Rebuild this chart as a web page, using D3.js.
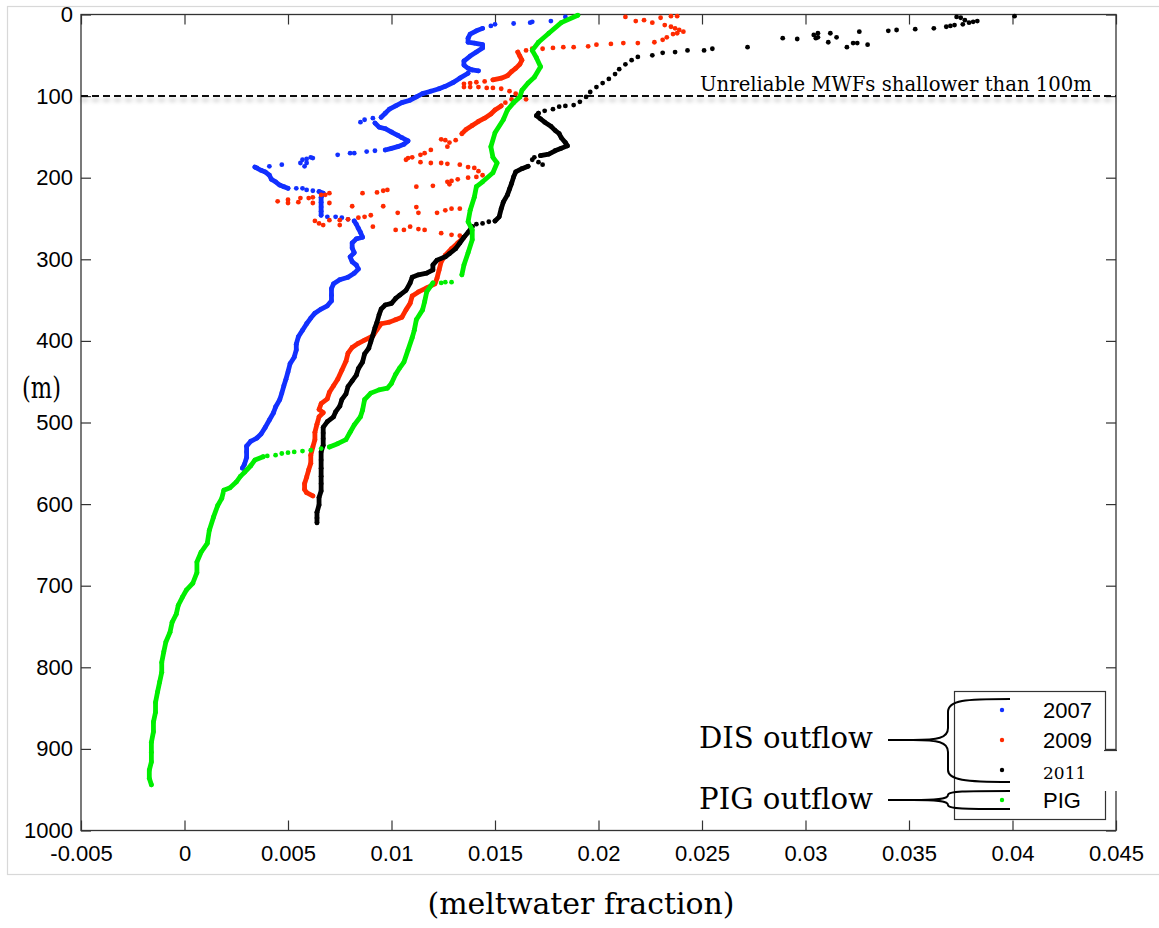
<!DOCTYPE html>
<html>
<head>
<meta charset="utf-8">
<script src="https://cdn.jsdelivr.net/npm/d3@7"></script>
<style>
  body { margin: 0; background: #fff; }
  svg { display: block; }
</style>
</head>
<body>
<svg id="chart" width="1159" height="928"></svg>
<script>
// tick values and labels
const xTicks = [-0.005, 0, 0.005, 0.01, 0.015, 0.02, 0.025, 0.03, 0.035, 0.04, 0.045];
const xTickLabels = ['-0.005', '0', '0.005', '0.01', '0.015', '0.02', '0.025', '0.03', '0.035', '0.04', '0.045'];
const yTicks = [0, 100, 200, 300, 400, 500, 600, 700, 800, 900, 1000];

// [meltwater fraction, depth m]; traces are the dense runs, dots the loose points
const dots2007 = [
  [0.0184, 3], [0.0177, 8], [0.0168, 9], [0.0167, 10], [0.0159, 11], [0.0150, 12], [0.0148, 14],
  [0.0091, 127], [0.0087, 129], [0.0085, 132],
  [0.0092, 167], [0.0088, 168], [0.0082, 170], [0.0080, 170], [0.0074, 172],
  [0.0061, 175], [0.0059, 177], [0.0057, 178], [0.0059, 182], [0.0056, 182], [0.0058, 186], [0.0062, 176],
  [0.0047, 184], [0.0041, 186], [0.0035, 188],
  [0.0054, 213], [0.0057, 213], [0.0059, 215], [0.0062, 216],
  [0.0069, 248], [0.0073, 248], [0.0076, 249], [0.0079, 251],
];
const traces2007 = [
  [[0.0144, 17], [0.0141, 20], [0.0138, 24], [0.0137, 29], [0.0137, 34], [0.0140, 35], [0.0144, 37], [0.0144, 41],
   [0.0141, 46], [0.0138, 51], [0.0135, 57], [0.0135, 62], [0.0137, 66], [0.0139, 68], [0.0142, 69]],
  [[0.0137, 72], [0.0133, 78], [0.0130, 83], [0.0126, 88], [0.0123, 91], [0.0119, 94], [0.0115, 97], [0.0112, 101],
   [0.0109, 105], [0.0105, 108], [0.0102, 112], [0.0099, 116], [0.0097, 121], [0.0095, 126]],
  [[0.0092, 133], [0.0094, 138], [0.0097, 140], [0.0100, 144], [0.0103, 148], [0.0105, 151], [0.0108, 155],
   [0.0106, 159], [0.0103, 162], [0.0100, 164], [0.0097, 166]],
  [[0.0034, 187], [0.0037, 191], [0.0039, 193], [0.0041, 197], [0.0042, 202], [0.0044, 205], [0.0046, 209],
   [0.0048, 211], [0.0050, 213]],
  [[0.0065, 217], [0.0067, 219], [0.0066, 224], [0.0066, 230], [0.0066, 236], [0.0066, 241], [0.0066, 246]],
  [[0.0082, 253], [0.0083, 257], [0.0084, 262], [0.0085, 267], [0.0086, 273], [0.0083, 275], [0.0081, 280],
   [0.0081, 286], [0.0082, 292], [0.0080, 297], [0.0081, 303], [0.0083, 307], [0.0084, 312], [0.0082, 317],
   [0.0079, 322], [0.0075, 325], [0.0072, 330], [0.0071, 336], [0.0071, 344], [0.0071, 351], [0.0069, 357],
   [0.0066, 361], [0.0063, 366], [0.0061, 372], [0.0059, 379], [0.0057, 387], [0.0055, 395], [0.0054, 404],
   [0.0054, 411], [0.0053, 420], [0.0051, 428], [0.0050, 438], [0.0049, 447], [0.0048, 455], [0.0047, 464],
   [0.0046, 472], [0.0044, 481], [0.0043, 488], [0.0041, 497], [0.0039, 506], [0.0037, 514], [0.0035, 519],
   [0.0032, 523], [0.0030, 529], [0.0030, 536], [0.0030, 543], [0.0029, 551], [0.0028, 556]],
];

const dots2009 = [
  [0.0213, 3], [0.0218, 8], [0.0222, 7], [0.0226, 10], [0.0230, 4], [0.0235, 2], [0.0238, 2], [0.0232, 13],
  [0.0235, 15], [0.0237, 17], [0.0239, 19], [0.0241, 21], [0.0238, 23], [0.0236, 24], [0.0233, 28], [0.0231, 31],
  [0.0227, 34],
  [0.0219, 35], [0.0212, 35], [0.0206, 36], [0.0199, 37], [0.0195, 39], [0.0188, 40], [0.0183, 40], [0.0178, 41],
  [0.0173, 42], [0.0168, 42], [0.0165, 44],
  [0.0145, 82], [0.0141, 83], [0.0138, 84], [0.0135, 85], [0.0135, 89], [0.0138, 89], [0.0142, 89], [0.0146, 90],
  [0.0149, 90], [0.0153, 91], [0.0157, 94], [0.0160, 97], [0.0162, 101], [0.0165, 104], [0.0161, 103],
  [0.0158, 104], [0.0155, 108],
  [0.0131, 154], [0.0128, 157], [0.0126, 154], [0.0127, 162], [0.0124, 153], [0.0119, 166], [0.0116, 170],
  [0.0114, 172], [0.0110, 175], [0.0108, 176], [0.0107, 178],
  [0.0114, 181], [0.0119, 182], [0.0124, 182], [0.0127, 183], [0.0133, 184], [0.0137, 187], [0.0140, 188],
  [0.0142, 192], [0.0144, 197], [0.0141, 199], [0.0137, 200], [0.0132, 202], [0.0129, 204], [0.0127, 205],
  [0.0128, 208], [0.0120, 210], [0.0112, 211], [0.0098, 215], [0.0096, 216], [0.0093, 218], [0.0086, 219],
  [0.0070, 219], [0.0068, 221], [0.0066, 221], [0.0062, 224], [0.0060, 225], [0.0056, 225], [0.0055, 230],
  [0.0050, 227], [0.0050, 231], [0.0045, 229], [0.0062, 231], [0.0070, 231], [0.0081, 235], [0.0096, 235],
  [0.0103, 243], [0.0112, 236], [0.0113, 243], [0.0122, 243], [0.0126, 240], [0.0129, 238], [0.0133, 238],
  [0.0090, 246], [0.0087, 248], [0.0084, 249], [0.0079, 251], [0.0075, 252], [0.0070, 252], [0.0063, 253],
  [0.0065, 256], [0.0067, 258], [0.0075, 258], [0.0091, 260], [0.0102, 264], [0.0106, 264], [0.0109, 260],
  [0.0113, 263], [0.0116, 264], [0.0124, 268], [0.0129, 270], [0.0133, 271],
];
const traces2009 = [
  [[0.0161, 46], [0.0162, 51], [0.0163, 56], [0.0162, 61], [0.0160, 66], [0.0158, 70], [0.0156, 75],
   [0.0153, 78], [0.0149, 80]],
  [[0.0153, 112], [0.0150, 117], [0.0148, 122], [0.0145, 127], [0.0142, 131], [0.0139, 136], [0.0136, 141],
   [0.0134, 146]],
  [[0.0135, 273], [0.0132, 280], [0.0129, 287], [0.0126, 295], [0.0124, 303], [0.0123, 313], [0.0122, 323],
   [0.0121, 330], [0.0117, 335], [0.0113, 340], [0.0110, 345], [0.0109, 354], [0.0107, 362], [0.0105, 371],
   [0.0102, 374], [0.0099, 377], [0.0095, 379], [0.0093, 386], [0.0091, 394], [0.0087, 399], [0.0084, 403],
   [0.0081, 408], [0.0079, 415], [0.0078, 425], [0.0076, 436], [0.0074, 447], [0.0072, 455], [0.0070, 463],
   [0.0069, 471], [0.0066, 477], [0.0065, 484], [0.0067, 488], [0.0065, 493], [0.0064, 502], [0.0063, 512],
   [0.0063, 521], [0.0062, 530], [0.0061, 540], [0.0061, 550], [0.0060, 558], [0.0059, 567], [0.0058, 575],
   [0.0058, 582], [0.0059, 586], [0.0062, 590]],
];

const dots2011 = [
  [0.0401, 2], [0.0383, 8], [0.0381, 9], [0.0379, 10], [0.0377, 7], [0.0376, 12], [0.0375, 4], [0.0373, 3],
  [0.0372, 13], [0.0370, 14], [0.0368, 15], [0.0362, 17], [0.0353, 18], [0.0344, 19], [0.0340, 20], [0.0330, 37],
  [0.0326, 21], [0.0325, 35], [0.0323, 35], [0.0320, 40], [0.0315, 28], [0.0312, 23], [0.0311, 34], [0.0306, 28],
  [0.0306, 23], [0.0305, 29], [0.0304, 25], [0.0296, 30], [0.0289, 29], [0.0272, 40], [0.0255, 42], [0.0251, 44],
  [0.0243, 44], [0.0237, 46], [0.0231, 47], [0.0226, 50],
  [0.0219, 52], [0.0216, 56], [0.0213, 61], [0.0210, 67], [0.0208, 73], [0.0205, 79], [0.0202, 84], [0.0199, 89],
  [0.0196, 95], [0.0194, 101], [0.0191, 107], [0.0188, 111],
  [0.0184, 112], [0.0181, 113], [0.0178, 116], [0.0174, 118],
  [0.0169, 175], [0.0168, 178], [0.0171, 181], [0.0173, 184],
  [0.0147, 254], [0.0144, 256], [0.0141, 257],
];
const traces2011 = [
  [[0.0171, 121], [0.0170, 124], [0.0172, 128], [0.0174, 132], [0.0177, 137], [0.0179, 142], [0.0181, 146],
   [0.0182, 151], [0.0184, 157], [0.0185, 161], [0.0182, 164], [0.0179, 167], [0.0176, 171], [0.0172, 173]],
  [[0.0166, 186], [0.0163, 189], [0.0160, 193], [0.0159, 199], [0.0158, 207], [0.0157, 214], [0.0156, 221],
   [0.0154, 230], [0.0153, 238], [0.0152, 248], [0.0150, 253]],
  [[0.0139, 260], [0.0137, 267], [0.0135, 273], [0.0133, 280], [0.0131, 287], [0.0128, 293], [0.0126, 297],
   [0.0122, 301], [0.0120, 307], [0.0120, 313], [0.0117, 317], [0.0113, 319], [0.0110, 322], [0.0109, 329],
   [0.0107, 338], [0.0104, 344], [0.0102, 348], [0.0100, 354], [0.0097, 356], [0.0095, 361], [0.0094, 368],
   [0.0093, 377], [0.0092, 384], [0.0091, 393], [0.0090, 401], [0.0089, 409], [0.0087, 416], [0.0086, 426],
   [0.0084, 434], [0.0083, 442], [0.0081, 449], [0.0079, 456], [0.0078, 465], [0.0076, 472], [0.0075, 480],
   [0.0073, 487], [0.0072, 493], [0.0069, 499], [0.0067, 506], [0.0067, 513], [0.0067, 520], [0.0067, 528],
   [0.0066, 536], [0.0066, 546], [0.0066, 556], [0.0066, 566], [0.0066, 575], [0.0066, 584], [0.0065, 592],
   [0.0065, 601], [0.0064, 610], [0.0064, 617], [0.0064, 623]],
];

const dotsPIG = [
  [0.0129, 328], [0.0126, 328], [0.0124, 329],
  [0.0066, 532], [0.0061, 534], [0.0057, 535], [0.0053, 536], [0.0050, 537], [0.0047, 538], [0.0044, 540],
  [0.0040, 541],
];
const tracesPIG = [
  [[0.0190, 1], [0.0182, 10], [0.0176, 23], [0.0171, 34], [0.0168, 44], [0.0170, 53], [0.0172, 64], [0.0169, 77],
   [0.0166, 84], [0.0163, 93], [0.0162, 101], [0.0159, 108], [0.0156, 117], [0.0154, 129], [0.0150, 145],
   [0.0148, 162], [0.0149, 175], [0.0151, 182], [0.0149, 194], [0.0144, 205], [0.0141, 211], [0.0140, 224],
   [0.0138, 240], [0.0137, 254], [0.0139, 264], [0.0139, 276], [0.0137, 292], [0.0135, 307], [0.0134, 319]],
  [[0.0120, 329], [0.0117, 340], [0.0116, 352], [0.0115, 362], [0.0112, 374], [0.0111, 387], [0.0110, 396],
   [0.0108, 411], [0.0106, 426], [0.0104, 433], [0.0102, 441], [0.0100, 452], [0.0098, 458], [0.0094, 460],
   [0.0090, 464], [0.0087, 472], [0.0086, 485], [0.0085, 493], [0.0082, 503], [0.0080, 512], [0.0078, 521],
   [0.0074, 526], [0.0070, 530]],
  [[0.0038, 542], [0.0034, 546], [0.0032, 553], [0.0029, 561], [0.0027, 566], [0.0025, 573], [0.0022, 580],
   [0.0019, 583], [0.0018, 593], [0.0016, 602], [0.0014, 616], [0.0012, 632], [0.0011, 648], [0.0008, 659],
   [0.0006, 671], [0.0006, 684], [0.0004, 697], [0.0001, 705], [-0.0001, 714], [-0.0003, 724], [-0.0004, 735],
   [-0.0006, 745], [-0.0007, 757], [-0.0009, 769], [-0.0010, 781], [-0.0011, 794], [-0.0011, 806],
   [-0.0012, 818], [-0.0013, 830], [-0.0014, 843], [-0.0014, 855], [-0.0015, 867], [-0.0015, 879],
   [-0.0016, 892], [-0.0016, 904], [-0.0016, 916], [-0.0017, 926], [-0.0017, 936], [-0.0016, 944]],
];

const legendLabels = ['2007', '2009', '2011', 'PIG'];
const seriesColors = ['#1230ff', '#ff2a00', '#000000', '#00ee00'];

const series = [
  { label: '2007', traces: traces2007, dots: dots2007 },
  { label: '2009', traces: traces2009, dots: dots2009 },
  { label: '2011', traces: traces2011, dots: dots2011 },
  { label: 'PIG', traces: tracesPIG, dots: dotsPIG },
];

// plot box in page pixels
const plot = { left: 81, right: 1116, top: 14.5, bottom: 830.5 };

const x = d3.scaleLinear().domain([-0.005, 0.045]).range([plot.left, plot.right]);
const y = d3.scaleLinear().domain([0, 1000]).range([plot.top, plot.bottom]);

const svg = d3.select('#chart');
const sansFont = '"Liberation Sans", Arial, Helvetica, sans-serif';
const serifFont = '"DejaVu Serif", serif';

// light frame around the whole figure
svg.append('rect')
  .attr('x', 7.5).attr('y', 6.5)
  .attr('width', 1160).attr('height', 868)
  .attr('fill', 'none')
  .attr('stroke', '#d8d8d8')
  .attr('stroke-width', 1.2);

// shadow for the dashed line (user space, a flat line has no bbox height)
const defs = svg.append('defs');
const shadow = defs.append('filter').attr('id', 'shadow')
  .attr('filterUnits', 'userSpaceOnUse')
  .attr('x', 0).attr('y', y(100) - 20)
  .attr('width', 1159).attr('height', 40);
shadow.append('feDropShadow')
  .attr('dx', 0).attr('dy', 4)
  .attr('stdDeviation', 2)
  .attr('flood-color', '#000')
  .attr('flood-opacity', 0.3);

// axes, ticks pointing inward on all four sides
function styleAxis(g) {
  g.select('.domain').remove();
  g.selectAll('.tick line').attr('stroke', '#333').attr('stroke-width', 1.2);
  g.selectAll('.tick text')
    .attr('fill', '#000')
    .style('font-family', sansFont)
    .style('font-size', '22px');
}

svg.append('g')
  .attr('transform', `translate(0,${plot.bottom})`)
  .call(d3.axisBottom(x).tickValues(xTicks).tickFormat((d, i) => xTickLabels[i])
    .tickSizeInner(-10).tickSizeOuter(0).tickPadding(15))
  .call(styleAxis);

svg.append('g')
  .attr('transform', `translate(0,${plot.top})`)
  .call(d3.axisTop(x).tickValues(xTicks).tickFormat('')
    .tickSizeInner(-10).tickSizeOuter(0))
  .call(styleAxis);

svg.append('g')
  .attr('transform', `translate(${plot.left},0)`)
  .call(d3.axisLeft(y).tickValues(yTicks).tickFormat(d3.format('d'))
    .tickSizeInner(-10).tickSizeOuter(0).tickPadding(8))
  .call(styleAxis);

svg.append('g')
  .attr('transform', `translate(${plot.right},0)`)
  .call(d3.axisRight(y).tickValues(yTicks).tickFormat('')
    .tickSizeInner(-10).tickSizeOuter(0))
  .call(styleAxis);

svg.append('rect')
  .attr('x', plot.left).attr('y', plot.top)
  .attr('width', plot.right - plot.left)
  .attr('height', plot.bottom - plot.top)
  .attr('fill', 'none')
  .attr('stroke', '#333')
  .attr('stroke-width', 1.3);

// dashed 100 m line
svg.append('line')
  .attr('x1', plot.left).attr('x2', plot.right)
  .attr('y1', y(100)).attr('y2', y(100))
  .attr('stroke', '#111')
  .attr('stroke-width', 2)
  .attr('stroke-dasharray', '7,4')
  .attr('filter', 'url(#shadow)');

svg.append('text')
  .attr('x', 700).attr('y', 91)
  .attr('textLength', 392)
  .attr('lengthAdjust', 'spacingAndGlyphs')
  .style('font-family', serifFont)
  .style('font-size', '20px')
  .text('Unreliable MWFs shallower than 100m');

// profiles
const line = d3.line().x((d) => x(d[0])).y((d) => y(d[1]));

series.forEach((s, i) => {
  const g = svg.append('g').attr('class', 'series');
  const color = seriesColors[i];

  g.selectAll('path')
    .data(s.traces)
    .enter()
    .append('path')
    .attr('d', line)
    .attr('fill', 'none')
    .attr('stroke', color)
    .attr('stroke-width', 4.8)
    .attr('stroke-linecap', 'round')
    .attr('stroke-linejoin', 'round');

  g.selectAll('circle')
    .data(s.dots.concat(s.traces.flat()))
    .enter()
    .append('circle')
    .attr('cx', (d) => x(d[0]))
    .attr('cy', (d) => y(d[1]))
    .attr('r', 2.4)
    .attr('fill', color);
});

// legend
const legend = svg.append('g');
legend.append('rect')
  .attr('x', 954.5).attr('y', 691.5)
  .attr('width', 151).attr('height', 128)
  .attr('fill', '#fff')
  .attr('stroke', '#333')
  .attr('stroke-width', 1.2);

const legendRows = [710, 740, 770, 800];
legendLabels.forEach((label, i) => {
  legend.append('circle')
    .attr('cx', 1002).attr('cy', legendRows[i])
    .attr('r', 2.2)
    .attr('fill', seriesColors[i]);
});

// patch pasted over the right edge, with the serif 2011
legend.append('rect')
  .attr('x', 1020).attr('y', 751)
  .attr('width', 100).attr('height', 40)
  .attr('fill', '#fff');
legend.append('line')
  .attr('x1', 1104).attr('x2', 1117)
  .attr('y1', 750.5).attr('y2', 750.5)
  .attr('stroke', '#333').attr('stroke-width', 1.2);

legendLabels.forEach((label, i) => {
  const serif = label === '2011';
  legend.append('text')
    .attr('x', 1043)
    .attr('y', legendRows[i] + (serif ? 3 : 0))
    .attr('dy', '0.36em')
    .style('font-family', serif ? serifFont : sansFont)
    .style('font-size', serif ? '17px' : '22px')
    .text(label);
});

// braces and group labels
const brace = svg.append('g')
  .attr('fill', 'none')
  .attr('stroke', '#000')
  .attr('stroke-width', 2);

brace.append('path')
  .attr('d', 'M1010,699 C965,699 948,700 948,712 L948,728 C948,738 938,740 913,740 ' +
    'C938,740 948,742 948,752 L948,770 C948,780 965,782 1010,782');
brace.append('path').attr('d', 'M888,740 L915,740');

brace.append('path')
  .attr('d', 'M1010,791 C965,791 948,791 948,795 C948,799 938,800 913,800 ' +
    'C938,800 948,801 948,805 C948,809 965,809 1010,809');
brace.append('path').attr('d', 'M888,800 L915,800');

svg.append('text')
  .attr('x', 699).attr('y', 748)
  .attr('textLength', 174)
  .attr('lengthAdjust', 'spacingAndGlyphs')
  .style('font-family', serifFont)
  .style('font-size', '30px')
  .text('DIS outflow');

svg.append('text')
  .attr('x', 699).attr('y', 809)
  .attr('textLength', 174)
  .attr('lengthAdjust', 'spacingAndGlyphs')
  .style('font-family', serifFont)
  .style('font-size', '30px')
  .text('PIG outflow');

// axis titles
svg.append('text')
  .attr('x', 22).attr('y', 398)
  .attr('textLength', 39)
  .attr('lengthAdjust', 'spacingAndGlyphs')
  .style('font-family', serifFont)
  .style('font-size', '30px')
  .text('(m)');

svg.append('text')
  .attr('x', 581).attr('y', 914)
  .attr('text-anchor', 'middle')
  .attr('textLength', 307)
  .attr('lengthAdjust', 'spacingAndGlyphs')
  .style('font-family', serifFont)
  .style('font-size', '30px')
  .text('(meltwater fraction)');
</script>
</body>
</html>
